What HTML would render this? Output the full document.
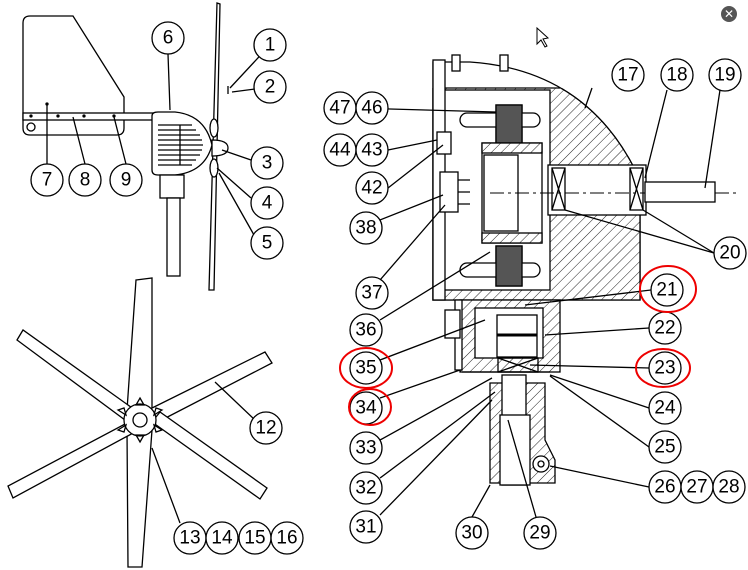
<!DOCTYPE html>
<html><head><meta charset="utf-8"><style>
html,body{margin:0;padding:0;background:#fff;}
svg{display:block;}
text{font-family:"Liberation Sans",sans-serif;font-size:19px;text-anchor:middle;dominant-baseline:central;fill:#000;}
</style></head><body>
<svg width="748" height="570" viewBox="0 0 748 570" xmlns="http://www.w3.org/2000/svg">
<defs>
<pattern id="h" width="7" height="7" patternUnits="userSpaceOnUse" patternTransform="rotate(45)">
<rect width="7" height="7" fill="#fff"/><line x1="0" y1="0" x2="0" y2="7" stroke="#222" stroke-width="1"/>
</pattern>
<clipPath id="lowc"><rect x="0" y="88" width="748" height="482"/></clipPath>
</defs>
<g fill="none" stroke="#000" stroke-width="1.3">
<!-- left turbine side view -->
<path d="M30,16 H73 L124,97 V128 Q124,135 117,135 H30 Q23,135 23,128 V23 Q23,16 30,16 Z" fill="#fff"/>
<rect x="23" y="113" width="132" height="7" fill="#fff"/>
<circle cx="31" cy="127" r="4"/>
<circle cx="47" cy="104" r="1" fill="#000"/><circle cx="31" cy="116" r="1" fill="#000"/><circle cx="58" cy="116" r="1" fill="#000"/><circle cx="84" cy="116" r="1" fill="#000"/><circle cx="114" cy="116" r="1" fill="#000"/>
<path d="M152,116 Q152,112 158,112 H175 Q205,115 212,145 Q205,172 175,175 H158 Q152,175 152,170 Z" fill="#fff"/>
<path d="M158,125 H192 M158,135 H200 M158,145 H203 M158,155 H200 M158,165 H192 M180,125 V165" stroke-width="1.3"/>
<path d="M158,130 H196 M158,140 H202 M158,150 H202 M158,160 H196" stroke-width="1.3"/>
<path d="M217,3 L220,4 L214,290 L209,290 Z" fill="#fff"/>
<ellipse cx="214" cy="128" rx="4" ry="9" fill="#fff"/><ellipse cx="214" cy="168" rx="4" ry="9" fill="#fff"/>
<path d="M212,140 Q228,140 228,148 Q228,156 212,156 Z" fill="#fff"/>
<rect x="160" y="175" width="24" height="23" fill="#fff"/>
<rect x="167" y="198" width="13" height="78" fill="#fff"/>
<path d="M230,88 L270,45 M232,92 L270,87 M228,86 V94"/>
<!-- leaders left -->
<path d="M168,54 L170,110 M47,104 V164 M73,117 L85,164 M114,117 L126,164 M222,150 L251,160 M217,168 L251,198 M219,173 L254,235"/>
<!-- bottom rotor -->
<g fill="#fff">
<path d="M136,280 L152,278 L152,410 L127,410 Z"/>
<path d="M127,430 L152,430 L142,567 L128,567 Z"/>
<path d="M17,340 L23,330 L135,410 L125,420 Z"/>
<path d="M125,424 L135,432 L13,498 L8,486 Z"/>
<path d="M148,410 L265,352 L272,363 L152,425 Z"/>
<path d="M152,422 L160,412 L267,488 L260,499 Z"/>
<circle cx="140" cy="420" r="16"/>
<circle cx="140" cy="420" r="7"/>
</g>
<path d="M140,398 L144,405 L136,405 Z M140,442 L144,435 L136,435 Z M118,410 L126,415 L124,408 Z M162,410 L154,415 L156,408 Z M118,430 L126,425 L124,432 Z M162,430 L154,425 L156,432 Z"/>
<path d="M215,382 L255,420 M152,448 L180,523"/>
<!-- right cutaway -->
<path d="M433,62 H470 Q590,70 640,180 V300 H433 Z" fill="#fff"/>
<path d="M433,62 H470 Q590,70 640,180 V300 H433 Z" fill="url(#h)" clip-path="url(#lowc)"/>
<path d="M445,88 H560"/>
<rect x="440" y="90" width="110" height="200" fill="#fff"/>
<rect x="433" y="60" width="12" height="240" fill="#fff"/>
<rect x="452" y="55" width="8" height="16" fill="#fff"/><rect x="500" y="55" width="8" height="16" fill="#fff"/>
<rect x="496" y="105" width="26" height="40" fill="#555"/><rect x="496" y="246" width="26" height="40" fill="#555"/>
<path d="M500,105 V145 M505,105 V145 M510,105 V145 M515,105 V145 M500,246 V286 M505,246 V286 M510,246 V286 M515,246 V286" stroke="#888" stroke-width="1"/>
<rect x="460" y="113" width="80" height="14" rx="7" fill="#fff"/><rect x="460" y="263" width="80" height="14" rx="7" fill="#fff"/>
<rect x="496" y="105" width="26" height="40" fill="#555"/><rect x="496" y="246" width="26" height="40" fill="#555"/>
<rect x="482" y="143" width="60" height="100" fill="#fff"/>
<rect x="482" y="143" width="60" height="10" fill="url(#h)"/><rect x="482" y="233" width="60" height="10" fill="url(#h)"/>
<rect x="484" y="155" width="34" height="76" fill="#fff"/>
<rect x="548" y="165" width="98" height="50" fill="#fff"/>
<path d="M552,168 L565,210 M565,168 L552,210 M630,168 L643,210 M643,168 L630,210"/>
<rect x="552" y="168" width="13" height="42"/><rect x="630" y="168" width="13" height="42"/>
<path d="M490,193 H740" stroke-dasharray="14,4,3,4" stroke-width="1"/>
<rect x="645" y="182" width="70" height="20" fill="#fff"/>
<rect x="437" y="132" width="14" height="22" fill="#fff"/>
<rect x="440" y="172" width="18" height="40" fill="#fff"/>
<path d="M458,180 H470 M458,192 H470 M458,204 H470"/>
<!-- stem -->
<rect x="460" y="300" width="100" height="72" fill="url(#h)"/>
<rect x="475" y="308" width="68" height="50" fill="#fff"/>
<rect x="497" y="315" width="40" height="42" fill="#fff"/>
<path d="M497,335 H537" stroke-width="3"/>
<rect x="455" y="300" width="7" height="70" fill="#fff"/>
<rect x="445" y="310" width="15" height="28" fill="#fff"/>
<rect x="498" y="358" width="40" height="14"/>
<path d="M498,358 L538,372 M538,358 L498,372"/>
<path d="M462,372 H550"/>
<!-- lower tube -->
<path d="M490,383 H545 V440 L555,460 V483 H490 Z" fill="url(#h)"/>
<rect x="502" y="375" width="24" height="110" fill="#fff"/>
<rect x="500" y="415" width="30" height="70" fill="#fff"/>
<circle cx="541" cy="464" r="8" fill="#fff"/><circle cx="541" cy="464" r="3"/>
<!-- leaders right -->
<path d="M356,108 L496,112 M388,150 L437,140 M388,188 L443,145 M380,220 L443,195 M380,280 L445,205 M380,320 L490,252 M380,360 L485,320 M380,398 L460,370 M380,440 L492,378 M380,478 L495,392 M380,515 L492,400 M472,517 L490,485 M536,517 L508,420 M649,487 L550,466 M649,447 L550,376 M649,408 L550,375 M649,368 L530,365 M649,328 L545,335 M651,290 L525,305 M592,88 L585,108 M667,90 L645,178 M720,90 L705,188 M714,253 L565,210 M714,253 L643,210"/>
</g>
<!-- labels -->
<g fill="#fff" stroke="#000" stroke-width="1.3">
<circle cx="270" cy="45" r="16"/><circle cx="270" cy="87" r="16"/><circle cx="168" cy="38" r="16"/>
<circle cx="47" cy="180" r="16"/><circle cx="85" cy="180" r="16"/><circle cx="126" cy="180" r="16"/>
<circle cx="267" cy="163" r="16"/><circle cx="267" cy="203" r="16"/><circle cx="267" cy="243" r="16"/>
<circle cx="266" cy="428" r="16"/><circle cx="190" cy="538" r="16"/><circle cx="222" cy="538" r="16"/><circle cx="255" cy="538" r="16"/><circle cx="287" cy="538" r="16"/>
<circle cx="340" cy="108" r="16"/><circle cx="372" cy="108" r="16"/><circle cx="340" cy="150" r="16"/><circle cx="372" cy="150" r="16"/>
<circle cx="372" cy="188" r="16"/><circle cx="366" cy="228" r="16"/><circle cx="372" cy="293" r="16"/><circle cx="366" cy="330" r="16"/>
<circle cx="366" cy="368" r="16"/><circle cx="366" cy="408" r="16"/><circle cx="366" cy="448" r="16"/><circle cx="366" cy="488" r="16"/><circle cx="366" cy="527" r="16"/>
<circle cx="472" cy="533" r="16"/><circle cx="540" cy="533" r="16"/>
<circle cx="665" cy="487" r="16"/><circle cx="697" cy="487" r="16"/><circle cx="729" cy="487" r="16"/>
<circle cx="665" cy="447" r="16"/><circle cx="665" cy="408" r="16"/><circle cx="665" cy="368" r="16"/><circle cx="665" cy="328" r="16"/><circle cx="667" cy="290" r="16"/>
<circle cx="730" cy="253" r="16"/><circle cx="725" cy="75" r="16"/><circle cx="677" cy="75" r="16"/><circle cx="628" cy="75" r="16"/>
</g>
<g>
<text x="270" y="45">1</text><text x="270" y="87">2</text><text x="168" y="38">6</text>
<text x="47" y="180">7</text><text x="85" y="180">8</text><text x="126" y="180">9</text>
<text x="267" y="163">3</text><text x="267" y="203">4</text><text x="267" y="243">5</text>
<text x="266" y="428">12</text><text x="190" y="538">13</text><text x="222" y="538">14</text><text x="255" y="538">15</text><text x="287" y="538">16</text>
<text x="340" y="108">47</text><text x="372" y="108">46</text><text x="340" y="150">44</text><text x="372" y="150">43</text>
<text x="372" y="188">42</text><text x="366" y="228">38</text><text x="372" y="293">37</text><text x="366" y="330">36</text>
<text x="366" y="368">35</text><text x="366" y="408">34</text><text x="366" y="448">33</text><text x="366" y="488">32</text><text x="366" y="527">31</text>
<text x="472" y="533">30</text><text x="540" y="533">29</text>
<text x="665" y="487">26</text><text x="697" y="487">27</text><text x="729" y="487">28</text>
<text x="665" y="447">25</text><text x="665" y="408">24</text><text x="665" y="368">23</text><text x="665" y="328">22</text><text x="667" y="290">21</text>
<text x="730" y="253">20</text><text x="725" y="75">19</text><text x="677" y="75">18</text><text x="628" y="75">17</text>
</g>
<!-- red marks -->
<g fill="none" stroke="#e00" stroke-width="2">
<ellipse cx="668" cy="289" rx="28" ry="23"/>
<ellipse cx="663" cy="368" rx="27" ry="19"/>
<ellipse cx="366" cy="368" rx="26" ry="20"/>
<ellipse cx="370" cy="407" rx="21" ry="18"/>
</g>
<!-- close button -->
<circle cx="729" cy="14" r="8" fill="#555"/>
<text x="729" y="14" style="font-size:12px;fill:#fff">✕</text>
<path d="M537,28 V44 L541,40 L545,47 L547,46 L543,39 L548,38 Z" fill="#fff" stroke="#000" stroke-width="1"/>
</svg>
</body></html>
